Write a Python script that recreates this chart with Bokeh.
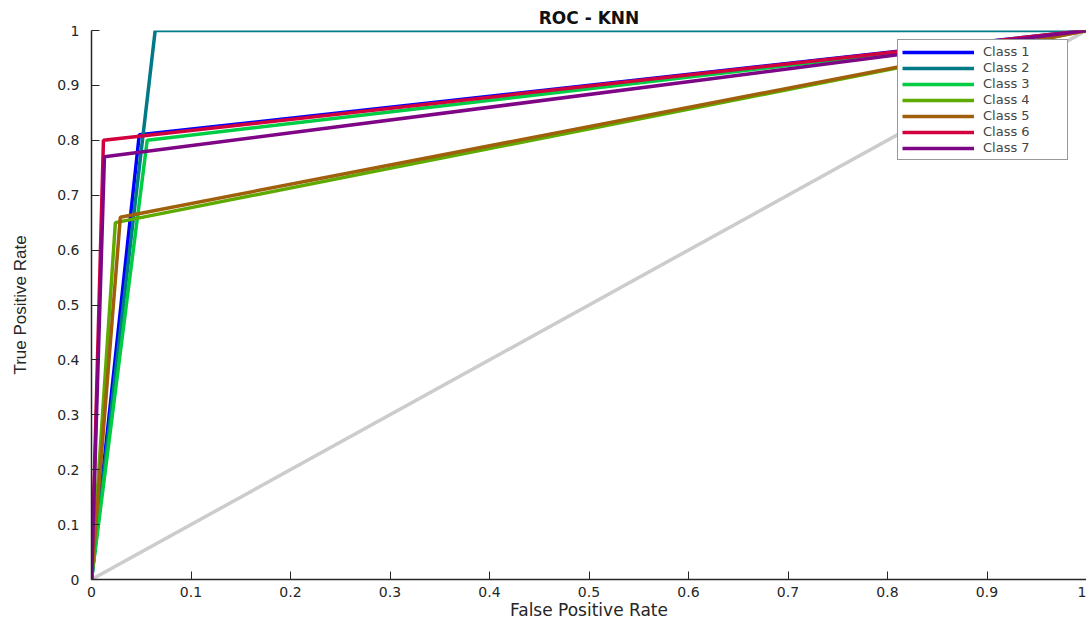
from bokeh.plotting import figure
from bokeh.models import Range1d, FixedTicker, Legend, LegendItem
from bokeh.embed import file_html
from bokeh.resources import INLINE

classes = ["Class 1", "Class 2", "Class 3", "Class 4", "Class 5", "Class 6", "Class 7"]
colors = ["#0000FF", "#007A87", "#00CC44", "#5FAA00", "#A05F0A", "#D2003C", "#7F0587"]
fpr = [
    [0, 0.048, 1],
    [0, 0.064, 1],
    [0, 0.056, 1],
    [0, 0.024, 1],
    [0, 0.029, 1],
    [0, 0.012, 1],
    [0, 0.013, 1],
]
tpr = [
    [0, 0.81, 1],
    [0, 1.0, 1],
    [0, 0.80, 1],
    [0, 0.65, 1],
    [0, 0.66, 1],
    [0, 0.80, 1],
    [0, 0.77, 1],
]
diag_x = [0, 1]
diag_y = [0, 1]
ticks = [0, 0.1, 0.2, 0.3, 0.4, 0.5, 0.6, 0.7, 0.8, 0.9, 1]
tick_labels = {0: "0", 0.1: "0.1", 0.2: "0.2", 0.3: "0.3", 0.4: "0.4", 0.5: "0.5",
               0.6: "0.6", 0.7: "0.7", 0.8: "0.8", 0.9: "0.9", 1: "1"}

p = figure(width=1086, height=623, output_backend="svg", toolbar_location=None,
           x_range=Range1d(0, 1), y_range=Range1d(0, 1),
           min_border_left=91, min_border_right=0, min_border_top=30, min_border_bottom=44,
           title="ROC - KNN")
p.outline_line_color = None
p.xgrid.visible = False
p.ygrid.visible = False
p.title.align = "center"
p.title.text_font = "DejaVu Sans"
p.title.text_font_size = "17px"
p.title.text_font_style = "bold"
p.title.text_color = "#111111"
p.title.standoff = 5

p.line(diag_x, diag_y, line_color="#CCCCCC", line_width=3.5)
items = []
for i, name in enumerate(classes):
    r = p.line(fpr[i], tpr[i], line_color=colors[i], line_width=3.5)
    items.append(LegendItem(label=name, renderers=[r]))

for ax in (p.xaxis[0], p.yaxis[0]):
    ax.ticker = FixedTicker(ticks=ticks)
    ax.major_label_overrides = tick_labels
    ax.minor_tick_line_color = None
    ax.major_tick_in = 8
    ax.major_tick_out = 0
    ax.axis_line_color = "#262626"
    ax.major_tick_line_color = "#262626"
    ax.axis_line_width = 1.5
    ax.major_label_text_font = "DejaVu Sans"
    ax.major_label_text_font_size = "14px"
    ax.major_label_text_color = "#262626"
    ax.axis_label_text_font_style = "normal"
    ax.axis_label_text_color = "#262626"

p.xaxis.axis_label = "False Positive Rate"
p.xaxis.axis_label_text_font = "DejaVu Sans"
p.xaxis.axis_label_text_font_size = "17px"
p.xaxis.axis_label_standoff = 0
p.xaxis.major_label_standoff = 7

p.yaxis.axis_label = "True Positive Rate"
p.yaxis.axis_label_text_font = "Liberation Sans"
p.yaxis.axis_label_text_font_size = "17px"
p.yaxis.major_label_standoff = 12
p.yaxis.axis_label_standoff = 24

legend = Legend(items=items, location=(806, 419))
legend.label_text_font = "DejaVu Sans"
legend.label_text_font_size = "13px"
legend.label_height = 14
legend.glyph_height = 14
legend.glyph_width = 72
legend.label_width = 80
legend.spacing = 1
legend.padding = 4
legend.margin = 0
legend.label_standoff = 9
legend.border_line_color = "#333333"
legend.border_line_width = 1
legend.background_fill_alpha = 1
p.add_layout(legend)

open("out.html", "w").write(file_html(p, INLINE))
